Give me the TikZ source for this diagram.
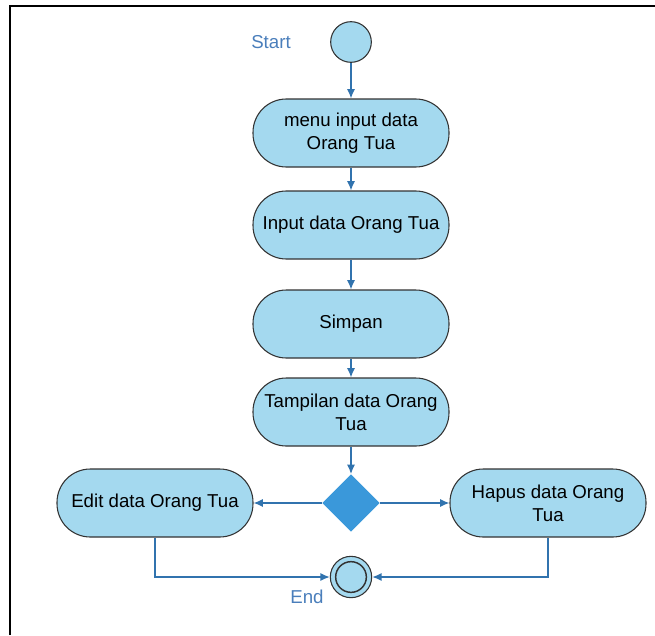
\documentclass[tikz,border=0pt]{standalone}
\usepackage{fontspec}
\setmainfont{Liberation Sans}
\usetikzlibrary{arrows.meta,shapes.geometric}
\definecolor{actfill}{HTML}{A4D9EF}
\definecolor{actline}{HTML}{333333}
\definecolor{flow}{HTML}{3173AE}
\definecolor{decfill}{HTML}{3A98DA}
\definecolor{lbl}{HTML}{4A7EBB}
\tikzset{
  act/.style={draw=actline, line width=0.8pt, fill=actfill, rounded corners=25pt,
    minimum width=147pt, minimum height=51pt, align=center, inner sep=2pt,
    font=\fontsize{14}{17.5}\selectfont},
  flowarrow/.style={draw=flow, line width=1pt, -{Latex[length=7pt,width=6pt]}},
  startnode/.style={circle, draw=actline, line width=0.8pt, fill=actfill, minimum size=30.5pt, inner sep=0pt},
  decnode/.style={diamond, fill=decfill, minimum width=43pt, minimum height=43pt, inner sep=0pt},
  lbltext/.style={text=lbl, font=\fontsize{14}{17.5}\selectfont},
}
\begin{document}
\begin{tikzpicture}[x=0.75pt,y=-0.75pt]
\useasboundingbox (0,0) rectangle (655,635);
\draw[line width=1.5pt, black] (10,635) -- (10,6) -- (655,6);
\node[startnode] (start) at (351,42) {};
\node[lbltext] (startlbl) at (271,42) {Start};
\node[act] (menu) at (351,133) {menu input data\\Orang Tua};
\node[act] (input) at (351,225) {Input data Orang Tua};
\node[act] (simpan) at (351,324) {Simpan};
\node[act] (tampil) at (351,412) {Tampilan data Orang\\Tua};
\node[decnode] (dec) at (351,503) {};
\node[act] (edit) at (155,503) {Edit data Orang Tua};
\node[act] (hapus) at (548,503) {Hapus data Orang\\Tua};
\node[circle, draw=actline, line width=0.8pt, fill=actfill, minimum size=31pt, inner sep=0pt] (end) at (351,577) {};
\node[circle, draw=actline, line width=1.1pt, fill=actfill, minimum size=23pt, inner sep=0pt] (endin) at (351,577) {};
\node[lbltext] (endlbl) at (307,597) {End};
\draw[flowarrow] (start) -- (menu);
\draw[flowarrow] (menu) -- (input);
\draw[flowarrow] (input) -- (simpan);
\draw[flowarrow] (simpan) -- (tampil);
\draw[flowarrow] (tampil) -- (dec);
\draw[flowarrow] (dec) -- (edit);
\draw[flowarrow] (dec) -- (hapus);
\draw[flowarrow] (edit.south) |- (end.west);
\draw[flowarrow] (hapus.south) |- (end.east);
\end{tikzpicture}
\end{document}
